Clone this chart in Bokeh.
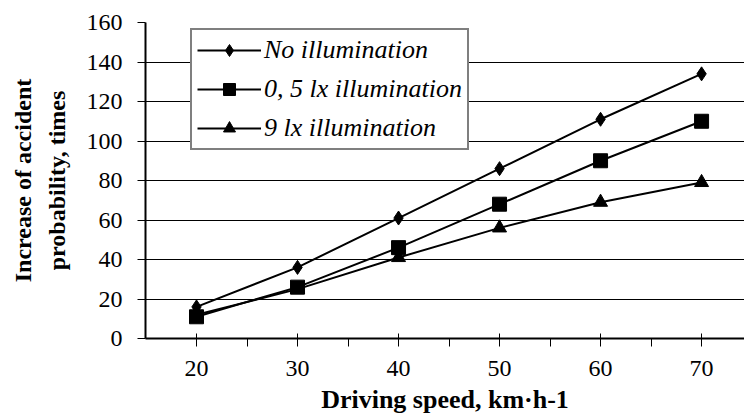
from bokeh.plotting import figure
from bokeh.models import Range1d, FixedTicker, Legend, LegendItem
from bokeh.embed import file_html
from bokeh.resources import INLINE

speed = [20, 30, 40, 50, 60, 70]
no_illum = [16, 36, 61, 86, 111, 134]
lx05 = [11, 26, 46, 68, 90, 110]
lx9 = [12, 25, 41, 56, 69, 79]
series_names = ["No illumination", "0, 5 lx illumination", "9 lx illumination"]
x_ticks = [20, 30, 40, 50, 60, 70]
x_minor = [25, 35, 45, 55, 65]
y_ticks = [0, 20, 40, 60, 80, 100, 120, 140, 160]

FONT = "Liberation Serif"

p = figure(width=744, height=417, output_backend="svg", toolbar_location=None,
           x_range=Range1d(14.95, 74.25), y_range=Range1d(0, 160),
           min_border_left=145, min_border_right=0, min_border_top=22, min_border_bottom=79)
p.outline_line_color = None
p.background_fill_color = "white"
p.border_fill_color = "white"

# grid
p.xgrid.grid_line_color = None
p.ygrid.grid_line_color = "black"
p.ygrid.grid_line_width = 1
p.ygrid.ticker = FixedTicker(ticks=y_ticks)

# x axis
p.xaxis.ticker = FixedTicker(ticks=x_ticks, minor_ticks=x_minor)
p.xaxis.axis_line_width = 2
p.xaxis.axis_line_color = "black"
p.xaxis.major_tick_in = 5
p.xaxis.major_tick_out = 8
p.xaxis.minor_tick_in = 0
p.xaxis.minor_tick_out = 8
p.xaxis.major_tick_line_color = "black"
p.xaxis.minor_tick_line_color = "black"
p.xaxis.major_label_text_font = FONT
p.xaxis.major_label_text_font_size = "24px"
p.xaxis.major_label_text_color = "black"
p.xaxis.major_label_standoff = 14
p.xaxis.axis_label = "Driving speed, km\u00b7h-1"
p.xaxis.axis_label_text_font = FONT
p.xaxis.axis_label_text_font_style = "bold"
p.xaxis.axis_label_text_font_size = "26px"
p.xaxis.axis_label_text_color = "black"
p.xaxis.axis_label_standoff = 6

# y axis
p.yaxis.ticker = FixedTicker(ticks=y_ticks)
p.yaxis.axis_line_width = 2
p.yaxis.axis_line_color = "black"
p.yaxis.major_tick_in = 0
p.yaxis.major_tick_out = 8
p.yaxis.minor_tick_line_color = None
p.yaxis.major_tick_line_color = "black"
p.yaxis.major_label_text_font = FONT
p.yaxis.major_label_text_font_size = "24px"
p.yaxis.major_label_text_color = "black"
p.yaxis.major_label_standoff = 15
p.yaxis.axis_label = "Increase of accident\nprobability, times"
p.yaxis.axis_label_text_font = FONT
p.yaxis.axis_label_text_font_style = "bold"
p.yaxis.axis_label_text_font_size = "24px"
p.yaxis.axis_label_text_color = "black"
p.yaxis.axis_label_text_line_height = 1.3
p.yaxis.axis_label_standoff = 14

r1l = p.line(speed, no_illum, line_color="black", line_width=2)
r1m = p.scatter(speed, no_illum, marker="diamond", size=14, fill_color="black", line_color="black")
r2l = p.line(speed, lx05, line_color="black", line_width=2)
r2m = p.scatter(speed, lx05, marker="square", size=14, fill_color="black", line_color="black")
r3l = p.line(speed, lx9, line_color="black", line_width=2)
r3m = p.scatter(speed, lx9, marker="triangle", size=14, fill_color="black", line_color="black")

legend = Legend(items=[
    LegendItem(label=series_names[0], renderers=[r1l, r1m]),
    LegendItem(label=series_names[1], renderers=[r2l, r2m]),
    LegendItem(label=series_names[2], renderers=[r3l, r3m]),
], location=(45, 188))
legend.label_text_font = FONT
legend.label_text_font_style = "italic"
legend.label_text_font_size = "26px"
legend.label_text_color = "black"
legend.glyph_width = 64
legend.glyph_height = 30
legend.label_height = 30
legend.label_standoff = 3
legend.spacing = 9
legend.padding = 5
legend.margin = 0
legend.border_line_color = "black"
legend.border_line_width = 2
legend.background_fill_color = "white"
legend.background_fill_alpha = 1.0
p.add_layout(legend)

open("out.html", "w").write(file_html(p, INLINE))
